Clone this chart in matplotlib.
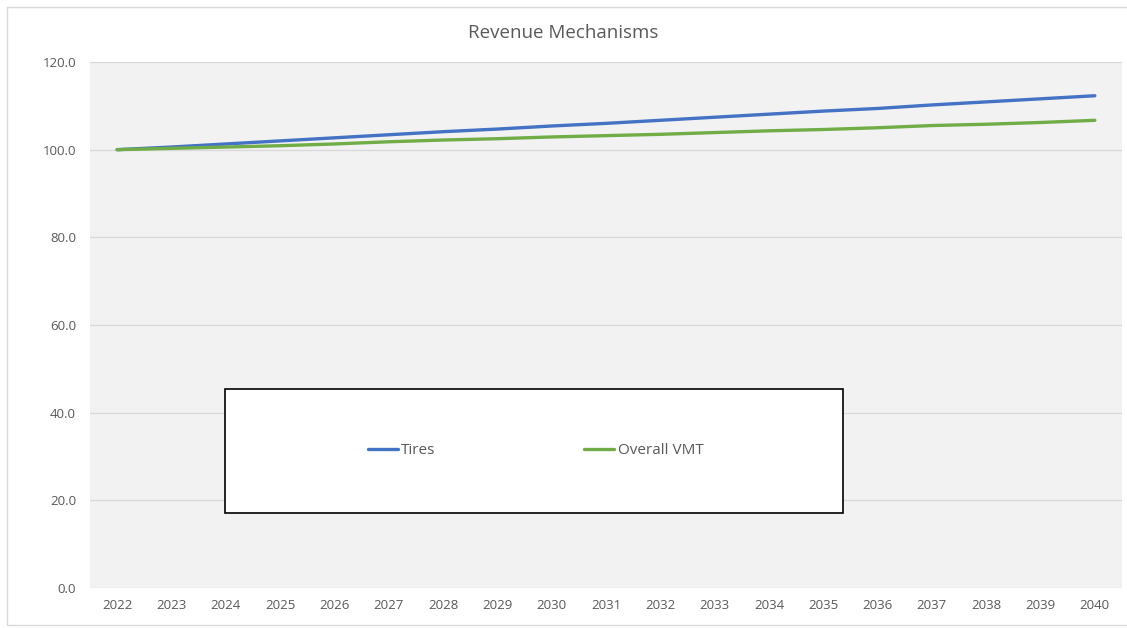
import matplotlib.pyplot as plt
from matplotlib.patches import Rectangle
import numpy as np

years = [str(y) for y in range(2022, 2041)]
tires = [100.0, 100.6, 101.3, 102.0, 102.7, 103.4, 104.1, 104.7, 105.4, 106.0,
         106.7, 107.4, 108.1, 108.8, 109.4, 110.2, 110.9, 111.6, 112.3]
overall_vmt = [100.0, 100.3, 100.6, 100.9, 101.3, 101.8, 102.2, 102.5, 102.9, 103.2,
               103.5, 103.9, 104.3, 104.6, 105.0, 105.5, 105.8, 106.2, 106.7]
y_ticks = [0, 20, 40, 60, 80, 100, 120]

plt.rcParams['font.family'] = ['Open Sans', 'DejaVu Sans']

W, H = 1127, 628
fig = plt.figure(figsize=(W / 100, H / 100), dpi=100)

# outer chart border
fig.patches.append(Rectangle((7 / W, 3 / H), 1.2, 1 - 10 / H, transform=fig.transFigure,
                             fill=False, edgecolor='#D9D9D9', linewidth=1))

ax = fig.add_axes([90 / W, 1 - 588 / H, (1122 - 90) / W, (588 - 62) / H])
ax.set_facecolor('#F2F2F2')

x = np.arange(len(years))
ax.plot(x, tires, color='#4472C4', linewidth=2.4, solid_capstyle='round', label='Tires', zorder=3)
ax.plot(x, overall_vmt, color='#70AD47', linewidth=2.4, solid_capstyle='round', label='Overall VMT', zorder=3)

ax.set_xlim(-0.5, len(years) - 0.5)
ax.set_ylim(0, 120)
ax.set_xticks(x)
ax.set_xticklabels(years)
ax.set_yticks(y_ticks)
ax.set_yticklabels([f"{v:.1f}" for v in y_ticks])
ax.tick_params(length=0, labelsize=9.5, colors='#595959', pad=8)
ax.tick_params(axis='y', pad=10)
ax.grid(axis='y', color='#D9D9D9', linewidth=1)
ax.set_axisbelow(True)
for s in ax.spines.values():
    s.set_visible(False)

fig.text(0.5, 1 - 33 / H, 'Revenue Mechanisms', ha='center', va='center',
         fontsize=13.5, color='#595959')

# legend box
ax.add_patch(Rectangle((0.1308, 0.1426), 0.7297 - 0.1308, 0.378 - 0.1426,
                       transform=ax.transAxes, facecolor='white', edgecolor='black',
                       linewidth=1.2, zorder=4))
leg = ax.legend(loc='center', bbox_to_anchor=(0.4317, 0.2605), ncol=2, frameon=False,
                fontsize=11, labelcolor='#595959', handlelength=1.95, handletextpad=0.25,
                columnspacing=9.7)
leg.set_zorder(5)

fig.savefig('out.png', dpi=100)
